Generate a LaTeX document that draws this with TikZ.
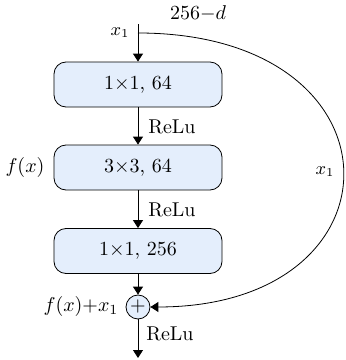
\documentclass[tikz,border=0pt]{standalone}
\usepackage{tikz}
\usepackage{amsmath}
\usetikzlibrary{positioning, calc, arrows.meta}
\definecolor{Dark}{HTML}{000000}
\definecolor{BoxFill}{HTML}{E4EEFC}
\tikzset{
    convbox/.style={rectangle, rounded corners=6pt, draw=Dark, fill=BoxFill, minimum width=84pt, minimum height=22.5pt, inner sep=0pt},
    sumnode/.style={circle, draw=Dark, fill=BoxFill, minimum size=12pt, inner sep=0pt},
    arrow/.style={-{Triangle[width=5pt,length=4pt]}, color=Dark},
    lbl/.style={font=\small, text=Dark},
}

\begin{document}
\begin{tikzpicture}[x=0.5pt, y=0.5pt]
    \useasboundingbox (0,0) rectangle (346,360);

    % Blocchi
    \node[convbox] (c1) at (138,275.5) {1{$\times$}1, 64};
    \node[convbox] (c2) at (138,192.5) {3{$\times$}3, 64};
    \node[convbox] (c3) at (138,109) {1{$\times$}1, 256};
    \node[sumnode] (sum) at (138,53) {$+$};

    % Punti di ingresso e uscita
    \coordinate (in) at (138,336);
    \coordinate (split) at (138,327);
    \coordinate (out) at (138,2);

    % Frecce principali
    \draw[arrow] (in) -- (c1);
    \draw[arrow] (c1) -- (c2);
    \draw[arrow] (c2) -- (c3);
    \draw[arrow] (c3) -- (sum);
    \draw[arrow] (sum) -- (out);

    % Scorciatoia
    \draw[arrow] (split) .. controls (409,327) and (409,53) .. (sum.east);

    % Etichette
    \node at (198,347) {256$-$$d$};
    \node[lbl] at (120,327) {$x_1$};
    \node at (172,233) {ReLu};
    \node at (172,150) {ReLu};
    \node at (170,26) {ReLu};
    \node at (25,192.5) {$f(x)$};
    \node[lbl] at (325,188) {$x_1$};
    \node at (81,53) {$f(x){+}x_1$};
\end{tikzpicture}
\end{document}
